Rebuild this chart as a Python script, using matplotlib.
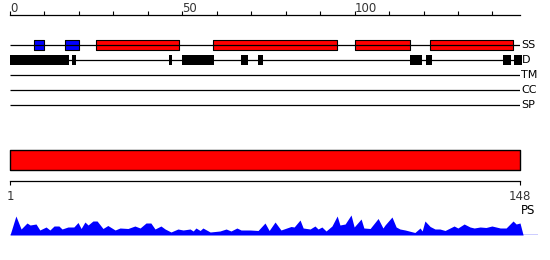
import matplotlib
matplotlib.use("Agg")
import matplotlib.pyplot as plt

plt.rcParams['font.family'] = ['DejaVu Sans']

SEQ_LEN = 148
TRACKS = ["SS", "D", "TM", "CC", "SP"]

# secondary structure segments (start, end, colour)
ss_blue = [(7, 10), (16, 20)]
ss_red = [(25, 49), (59, 95), (100, 116), (122, 146)]
# disorder segments
disorder = [(0, 17), (18, 19.2), (46, 47.1), (50, 59.2), (67, 69.1),
            (72, 73.3), (116, 119.5), (120.8, 122.4), (143, 145.3), (146.2, 148.5)]

# PS profile (residue, score)
ps_pos = [1, 2.7, 4.2, 5.9, 6.8, 8.5, 9.6, 11.4, 12.5, 13.7, 15.1, 16, 17.7, 19.4,
          20.6, 21.5, 22.6, 23.5, 24.9, 26.1, 27.8, 29.2, 31.3, 32.7, 35, 37, 38.5,
          40.2, 41.6, 42.8, 44.5, 45.7, 47.4, 49.4, 50.9, 52.9, 53.8, 54.6, 55.8,
          56.6, 58.7, 61.5, 63.3, 64.7, 66.4, 67.6, 70.2, 72.5, 74.5, 75.7, 77.4,
          79.1, 82, 82.9, 84.6, 85.5, 87.5, 88.9, 89.8, 90.9, 92.1, 93.8, 95.3,
          96.1, 97.6, 99.3, 100.2, 102.2, 103, 104.8, 107.1, 108.5, 109.1, 111.1,
          112.3, 113.4, 114.9, 117.7, 119.2, 119.8, 120.6, 122.1, 123.5, 124.9,
          126.4, 129, 130.1, 131.9, 133.6, 134.8, 136.5, 138.2, 139.9, 142.3, 144,
          146, 146.9, 148, 148.9]
ps_val = [0, 19, 6, 12, 10, 11, 5, 8, 5, 9, 9, 6, 8, 8,
          12.5, 6.5, 13, 10, 14, 14, 6.5, 9.5, 5, 7, 6.5, 9, 7,
          12, 12, 6, 9, 6, 3, 6, 5, 6, 4, 7, 4.5,
          7, 3, 4, 6, 4, 7, 5, 5, 4.5, 12, 4.5, 13,
          5, 8.5, 8, 15, 7, 6, 9, 6, 8, 4, 9, 19,
          10, 11, 20, 8, 16, 7, 6.5, 16.5, 7, 10, 18,
          8, 6, 5, 2.5, 7, 4, 14, 8.5, 6, 6,
          4.5, 9, 7, 11, 8, 7, 8, 7.5, 9, 7, 7,
          14, 11, 12, 0]

W, H = 550, 260


def box(x0, y0, x1, y1):
    # pixel box -> figure fraction [left, bottom, width, height]
    return [x0 / W, 1 - y1 / H, (x1 - x0) / W, (y1 - y0) / H]


fig = plt.figure(figsize=(5.5, 2.6), dpi=100)

# top ruler
ax_r = fig.add_axes(box(10, 14.5, 520, 15))
ax_r.set_xlim(0, SEQ_LEN)
for s in ["left", "right", "bottom"]:
    ax_r.spines[s].set_visible(False)
ax_r.spines["top"].set_linewidth(0.9)
ax_r.set_yticks([])
ax_r.xaxis.tick_top()
ax_r.set_xticks(range(0, SEQ_LEN + 1, 10))
ax_r.set_xticklabels([str(t) if t % 50 == 0 else "" for t in range(0, SEQ_LEN + 1, 10)])
ax_r.tick_params(axis="x", direction="out", length=3, width=0.8, pad=-3,
                 labelsize=8.5, labelcolor="#333333")
for lab in ax_r.get_xticklabels():
    lab.set_horizontalalignment("left")

# feature tracks
ax_t = fig.add_axes(box(10, 37.5, 520, 112.5))
ax_t.set_xlim(0, SEQ_LEN)
ax_t.set_ylim(len(TRACKS) - 0.5, -0.5)
ax_t.axis("off")
ax_t.hlines(range(len(TRACKS)), 0, SEQ_LEN, color="black", lw=0.9)
for i, name in enumerate(TRACKS):
    ax_t.annotate(name, (SEQ_LEN, i), xytext=(1, 0), textcoords="offset points",
                  va="center", ha="left", fontsize=8, color="black",
                  annotation_clip=False)
hs = 0.67
ax_t.broken_barh([(a, b - a) for a, b in ss_blue], (-hs / 2, hs),
                 facecolor="#0000ff", edgecolor="black", lw=0.8)
ax_t.broken_barh([(a, b - a) for a, b in ss_red], (-hs / 2, hs),
                 facecolor="#ff0000", edgecolor="black", lw=0.8)
hd = 0.73
ax_t.broken_barh([(a, b - a) for a, b in disorder], (1 - hd / 2, hd),
                 facecolor="black", edgecolor="black", lw=0, clip_on=False)

# full-length bar
ax_b = fig.add_axes(box(10, 150, 520, 170))
ax_b.set_xlim(1, SEQ_LEN)
ax_b.set_ylim(0, 1)
ax_b.axis("off")
ax_b.broken_barh([(1, SEQ_LEN - 1)], (0, 1), facecolor="#ff0000",
                 edgecolor="black", lw=1, clip_on=False)

# lower ruler
ax_r2 = fig.add_axes(box(10, 180, 520, 180.5))
ax_r2.set_xlim(1, SEQ_LEN)
for s in ["left", "right", "top"]:
    ax_r2.spines[s].set_visible(False)
ax_r2.spines["bottom"].set_linewidth(0.9)
ax_r2.set_yticks([])
ax_r2.set_xticks([1, SEQ_LEN])
ax_r2.tick_params(axis="x", direction="out", length=3, width=0.8, pad=3.5,
                  labelsize=8.5, labelcolor="#333333")

# PS profile
px_per_res = 510 / (SEQ_LEN - 1)
ax_p = fig.add_axes(box(10, 215, 538, 235))
ax_p.set_xlim(1, 1 + 528 / px_per_res)
ax_p.set_ylim(0, 20)
ax_p.axis("off")
ax_p.fill_between(ps_pos, 0, ps_val, color="#0000ff", lw=0, clip_on=False)
ax_p.axhline(0, color="#0000ff", lw=1)
fig.text(521 / W, 1 - 211 / H, "PS", fontsize=8.5, color="black", va="center", ha="left")

fig.savefig("out.png", dpi=100)
